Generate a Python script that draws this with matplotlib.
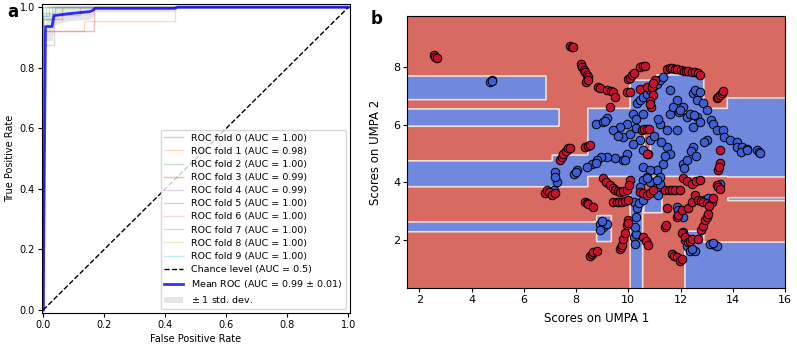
import numpy as np
import matplotlib.pyplot as plt

# =========================
# DATA - panel a (ROC)
# =========================

fold_fpr = [
    [0, 0, 0.02, 0.02, 1],
    [0, 0, 0.133, 0.133, 0.433, 0.433, 1],
    [0, 0, 0.03, 0.03, 1],
    [0, 0, 0.165, 0.165, 1],
    [0, 0, 0.035, 0.035, 0.12, 0.12, 1],
    [0, 0, 0.06, 0.06, 1],
    [0, 0, 1],
    [0, 0, 0.04, 0.04, 1],
    [0, 0, 1],
    [0, 0, 0.01, 0.01, 1],
]
fold_tpr = [
    [0, 0.97, 0.97, 1, 1],
    [0, 0.92, 0.92, 0.955, 0.955, 1, 1],
    [0, 0.96, 0.96, 1, 1],
    [0, 0.92, 0.92, 1, 1],
    [0, 0.875, 0.875, 0.975, 0.975, 1, 1],
    [0, 0.96, 0.96, 1, 1],
    [0, 1, 1],
    [0, 0.98, 0.98, 1, 1],
    [0, 1, 1],
    [0, 0.97, 0.97, 1, 1],
]
fold_auc = [1.00, 0.98, 1.00, 0.99, 0.99, 1.00, 1.00, 1.00, 1.00, 1.00]

mean_fpr = [0, 0.0075, 0.029, 0.035, 0.08, 0.15, 0.16, 0.17, 0.43, 0.44, 1.0]
mean_tpr = [0, 0.936, 0.936, 0.972, 0.978, 0.985, 0.988, 0.996, 0.996, 1.0, 1.0]
band_lo = [0, 0.89, 0.89, 0.94, 0.955, 0.96, 0.965, 0.985, 0.985, 1.0, 1.0]
band_hi = [0, 0.98, 0.98, 1.0, 1.0, 1.0, 1.0, 1.0, 1.0, 1.0, 1.0]
mean_auc = 0.99
std_auc = 0.01

# =========================
# DATA - panel b (UMPA scores)
# =========================

red_pts = [
    (2.55, 8.42), (2.6, 8.36), (2.67, 8.30),
    (7.78, 8.72), (7.83, 8.68), (7.88, 8.70),
    (8.2, 8.1), (8.22, 8.02), (8.3, 7.9), (8.34, 7.82), (8.42, 7.72), (8.47, 7.64), (8.40, 7.49), (8.45, 7.55),
    (8.85, 7.32), (8.92, 7.28), (9.17, 7.22), (9.35, 7.18), (9.42, 7.12), (9.49, 6.97),
    (9.95, 7.12), (10.05, 7.14), (10.0, 7.58), (10.07, 7.62), (10.15, 7.72), (10.2, 7.78),
    (10.45, 8.0), (10.55, 8.03), (10.63, 8.05),
    (10.44, 7.25), (10.7, 7.3), (10.9, 7.32), (11.02, 7.57), (10.95, 7.45), (10.95, 7.02),
    (10.82, 6.84), (10.88, 6.61), (10.85, 6.73),
    (9.30, 6.62),
    (11.5, 7.92), (11.6, 7.96), (11.67, 7.98), (11.78, 7.95), (11.87, 7.92), (12.0, 7.9), (12.12, 7.86),
    (12.2, 7.86), (12.30, 7.86), (12.45, 7.83), (12.56, 7.82), (12.65, 7.78), (12.75, 7.74),
    (13.39, 6.93), (13.45, 6.98), (13.5, 7.04), (13.57, 7.1), (13.64, 7.16),
    (10.51, 5.82), (10.6, 5.84), (10.7, 5.84), (10.8, 5.86),
    (10.77, 4.99), (10.7, 5.0),
    (7.39, 4.77), (7.45, 4.88), (7.5, 5.0), (7.6, 5.08), (7.7, 5.18), (7.75, 5.2),
    (8.34, 5.24), (8.45, 5.27), (8.53, 5.30),
    (13.5, 5.12), (13.5, 4.66), (13.45, 4.43), (13.48, 4.55),
    (6.81, 3.62), (6.88, 3.74), (6.95, 3.66), (7.07, 3.56), (7.2, 3.62),
    (8.34, 3.33), (8.42, 3.3), (8.47, 3.27), (8.66, 3.16),
    (8.53, 1.46), (8.6, 1.52), (8.66, 1.58), (8.79, 1.64),
    (9.68, 1.69), (9.72, 1.76), (9.75, 1.82),
    (9.81, 2.05), (9.88, 2.23), (9.94, 2.52), (10.0, 2.69), (9.97, 2.6),
    (9.43, 3.33), (9.55, 3.33), (9.65, 3.33), (9.75, 3.33), (9.88, 3.36), (10.0, 3.39),
    (9.05, 4.14), (9.15, 4.02), (9.3, 3.9), (9.4, 3.8), (9.5, 3.73), (9.6, 3.7), (9.68, 3.68),
    (9.8, 3.7), (9.94, 3.73), (10.07, 4.08), (10.02, 3.9),
    (10.44, 3.68), (10.57, 3.62), (10.7, 3.56), (10.82, 3.64), (10.95, 3.73),
    (10.57, 2.1), (10.66, 1.96), (10.76, 1.82),
    (11.4, 3.73), (11.55, 3.73), (11.67, 3.73), (11.8, 3.73), (11.98, 3.73),
    (11.47, 3.1), (11.4, 2.46), (11.45, 2.52),
    (11.85, 2.8), (11.92, 2.86), (12.04, 3.04),
    (12.3, 3.1), (12.42, 3.33), (12.55, 3.56), (12.68, 3.39), (12.78, 3.36), (12.87, 3.33),
    (13.0, 3.3), (13.19, 3.33), (13.1, 3.2), (13.25, 3.45),
    (11.67, 1.52), (11.75, 1.46), (11.85, 1.41), (11.98, 1.29), (12.05, 1.35),
    (12.04, 2.23), (12.17, 2.1), (12.3, 1.94), (12.36, 1.98), (12.43, 2.05),
    (12.68, 2.05), (12.8, 2.34), (12.87, 2.5), (12.93, 2.69), (13.0, 2.8), (13.06, 2.92),
    (13.39, 3.9), (13.45, 3.85), (13.52, 3.79),
    (12.1, 4.14), (12.25, 4.05), (12.43, 3.96), (12.6, 4.05), (12.75, 4.08),
]

blue_pts = [
    (4.72, 7.5), (4.77, 7.55), (4.8, 7.52),
    (8.78, 6.04), (9.04, 6.1), (9.17, 6.22), (9.1, 6.12),
    (10.32, 6.74), (10.45, 6.85), (10.58, 6.97), (10.7, 7.08), (10.83, 7.2), (10.96, 7.32),
    (11.09, 7.43), (11.2, 7.55), (11.34, 7.67),
    (10.19, 6.39), (10.3, 6.2), (10.58, 6.39), (9.94, 6.04), (9.68, 5.93), (9.43, 5.81), (9.81, 5.58),
    (10.07, 5.69), (10.45, 5.46), (10.19, 5.35), (10.58, 5.12), (10.83, 5.46), (10.3, 5.9), (9.6, 5.6),
    (11.21, 6.04), (11.47, 5.81), (11.6, 6.39), (11.85, 6.86), (12.11, 6.62), (12.24, 6.27),
    (11.7, 6.6), (11.95, 6.45), (11.6, 7.2), (11.98, 6.51),
    (11.47, 5.23), (11.6, 5.0), (11.34, 4.65), (11.09, 4.42), (11.21, 4.19), (11.4, 4.9),
    (11.25, 5.4), (11.0, 5.6), (11.15, 6.2),
    (12.49, 7.1), (12.62, 7.15), (12.62, 6.86), (12.87, 6.74), (13.0, 6.51), (12.56, 7.2), (12.75, 7.14),
    (12.62, 6.27), (12.75, 6.1), (12.36, 6.39), (12.5, 6.35), (12.49, 5.93),
    (13.15, 6.16), (13.26, 6.04), (13.4, 5.81), (13.64, 5.81), (13.66, 5.58), (13.91, 5.46),
    (14.16, 5.4), (14.17, 5.24), (14.35, 5.23), (14.3, 5.06), (14.53, 5.17), (14.54, 5.14),
    (14.92, 5.12), (15.0, 5.06), (15.05, 5.03),
    (11.86, 5.81), (12.49, 5.24), (13.0, 5.46), (12.9, 5.4), (12.4, 5.1), (12.6, 4.9),
    (9.94, 5.0), (9.81, 4.77), (9.5, 4.85), (9.2, 4.88), (8.94, 4.88), (8.81, 4.77), (8.6, 4.65),
    (8.43, 4.53), (8.05, 4.42), (7.92, 4.3), (7.21, 4.37), (7.98, 4.37), (8.75, 4.66),
    (9.88, 4.77), (10.57, 4.54),
    (10.83, 4.42), (10.7, 4.19), (10.58, 4.07), (10.45, 3.85), (11.09, 3.85), (11.2, 3.95),
    (12.11, 4.65), (12.24, 4.77), (12.15, 4.5),
    (7.14, 3.73), (7.27, 4.02), (7.2, 4.2),
    (8.92, 2.57), (9.05, 2.46), (8.92, 2.34), (9.17, 2.57), (9.0, 2.65),
    (10.2, 3.33), (10.33, 3.1), (10.4, 3.3), (10.2, 2.1), (10.26, 1.87), (10.3, 2.2),
    (10.26, 2.45), (10.3, 2.8), (10.58, 3.39),
    (11.14, 3.56), (10.82, 4.0), (10.7, 4.14), (11.08, 4.08),
    (11.85, 3.16), (11.9, 3.05), (12.11, 2.8), (12.11, 2.28), (12.17, 2.0), (12.25, 1.8),
    (12.36, 1.64), (12.55, 1.64), (12.45, 1.7),
    (13.13, 1.87), (13.32, 1.82), (13.4, 1.78), (13.25, 1.9),
    (12.87, 3.39), (13.06, 3.45), (13.52, 3.96),
]

# decision regions: blue boxes on a red background, then red cut-outs (x0, x1, y0, y1)
blue_boxes = [
    (1.5, 6.85, 6.86, 7.69),
    (1.5, 7.35, 5.95, 6.54),
    (1.5, 8.46, 3.84, 4.74),
    (7.1, 8.46, 4.1, 4.95),
    (8.46, 13.8, 4.2, 6.57),
    (10.07, 12.9, 6.57, 7.55),
    (11.1, 12.9, 7.55, 7.72),
    (12.9, 13.8, 4.3, 6.94),
    (13.8, 16.1, 4.18, 6.93),
    (1.5, 8.8, 2.28, 2.62),
    (8.8, 9.35, 1.95, 2.85),
    (10.07, 10.56, 0.2, 4.3),
    (12.17, 16.1, 0.2, 1.93),
    (12.17, 12.9, 1.93, 2.3),
    (13.82, 16.1, 3.36, 3.46),
    (10.6, 11.3, 2.95, 3.6),
]
red_boxes = [
    (10.62, 10.85, 4.95, 5.85),
    (12.9, 13.8, 6.57, 6.94),
]

# =========================
# PLOT
# =========================

fig = plt.figure(figsize=(7.97, 3.49), dpi=100)

# ---- panel a ----
ax1 = fig.add_axes([0.0523, 0.1032, 0.3868, 0.885])
fold_colors = plt.cm.tab10.colors
for i in range(10):
    ax1.plot(fold_fpr[i], fold_tpr[i], color=fold_colors[i], lw=1, alpha=0.3,
             label=f"ROC fold {i} (AUC = {fold_auc[i]:.2f})")
ax1.plot([0, 1], [0, 1], "k--", lw=1, label="Chance level (AUC = 0.5)")
ax1.plot(mean_fpr, mean_tpr, color="b", lw=2, alpha=0.8,
         label=f"Mean ROC (AUC = {mean_auc:.2f} $\\pm$ {std_auc:.2f})")
ax1.fill_between(mean_fpr, band_lo, band_hi, color="grey", alpha=0.2, lw=0,
                 label=r"$\pm$ 1 std. dev.")

ax1.set_xlim(-0.005, 1.005)
ax1.set_ylim(-0.01, 1.01)
ax1.set_xticks([0, 0.2, 0.4, 0.6, 0.8, 1.0])
ax1.set_yticks([0, 0.2, 0.4, 0.6, 0.8, 1.0])
ax1.tick_params(labelsize=7, length=3, pad=2)
ax1.set_xlabel("False Positive Rate", fontsize=7, labelpad=3)
ax1.set_ylabel("True Positive Rate", fontsize=7, labelpad=3)
ax1.legend(loc="lower right", fontsize=6.8, labelspacing=0.44, borderaxespad=0.4,
           handlelength=2.0, borderpad=0.4)

fig.text(0.009, 0.992, "a", fontsize=12, fontweight="bold", va="top")

# ---- panel b ----
ax2 = fig.add_axes([0.511, 0.1748, 0.474, 0.780])

gx = np.arange(1.5, 16.05, 0.02)
gy = np.arange(0.2, 9.9, 0.02)
xx, yy = np.meshgrid(gx, gy)
zz = np.zeros_like(xx)
for x0, x1, y0, y1 in blue_boxes:
    zz[(xx >= x0) & (xx <= x1) & (yy >= y0) & (yy <= y1)] = 1
for x0, x1, y0, y1 in red_boxes:
    zz[(xx >= x0) & (xx <= x1) & (yy >= y0) & (yy <= y1)] = 0

ax2.contourf(xx, yy, zz, levels=[-0.5, 0.5, 1.5], colors=["#d96a62", "#7088de"])
ax2.contour(xx, yy, zz, levels=[0.5], colors="#f2dcd6", linewidths=1.2)

bx = [p[0] for p in blue_pts]
by = [p[1] for p in blue_pts]
rx = [p[0] for p in red_pts]
ry = [p[1] for p in red_pts]
ax2.scatter(bx, by, s=38, c="#3d5fd3", edgecolors="k", linewidths=0.7, zorder=3)
ax2.scatter(rx, ry, s=38, c="#c3132f", edgecolors="k", linewidths=0.7, zorder=3)

ax2.set_xlim(1.54, 16)
ax2.set_ylim(0.34, 9.78)
ax2.set_xticks([2, 4, 6, 8, 10, 12, 14, 16])
ax2.set_yticks([2, 4, 6, 8])
ax2.tick_params(labelsize=8, length=3, pad=2)
ax2.set_xlabel("Scores on UMPA 1", fontsize=8.5, labelpad=5)
ax2.set_ylabel("Scores on UMPA 2", fontsize=8.5, labelpad=8)

fig.text(0.465, 0.93, "b", fontsize=12, fontweight="bold")

plt.savefig("out.png", dpi=100)
